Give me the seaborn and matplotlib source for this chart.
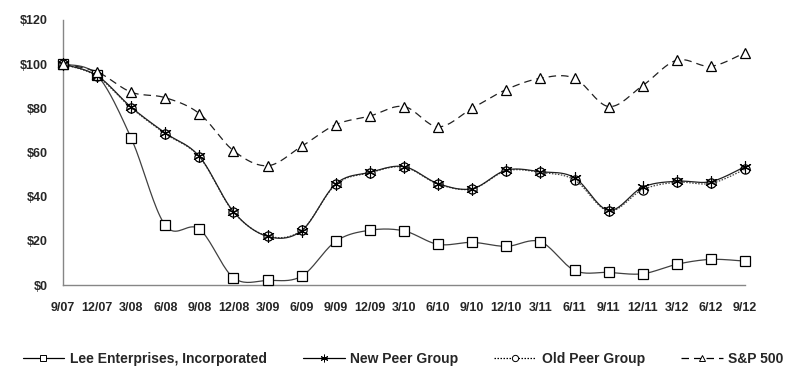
import numpy as np
import pandas as pd
import seaborn as sns
import matplotlib
matplotlib.use('Agg')
import matplotlib.pyplot as plt
from matplotlib.lines import Line2D

# Data (cumulative total return, $100 invested 9/07)
quarters = ["9/07", "12/07", "3/08", "6/08", "9/08", "12/08", "3/09", "6/09", "9/09", "12/09",
            "3/10", "6/10", "9/10", "12/10", "3/11", "6/11", "9/11", "12/11", "3/12", "6/12", "9/12"]
lee = [100, 95, 66.5, 27, 25.3, 3.3, 2.1, 4, 19.8, 24.8,
       24.5, 18.4, 19.3, 17.5, 19.6, 6.6, 5.7, 5.1, 9.4, 11.6, 10.8]
new_peer = [100, 94.8, 80.5, 68.8, 58.2, 33.2, 22, 24.6, 45.8, 51,
            53.6, 45.9, 43.6, 52, 51.3, 48.6, 33.8, 44.3, 47, 46.8, 53.6]
old_peer = [100, 94.5, 80.2, 68.5, 58, 33, 22.2, 24.8, 45.5, 50.8,
            53.4, 45.7, 43.5, 51.7, 51, 47.6, 33.5, 43.2, 46.5, 46, 52.4]
sp500 = [100, 96.5, 87.3, 84.8, 77.6, 60.8, 54, 62.8, 72.6, 76.5,
         80.8, 71.6, 80, 88.5, 93.6, 93.6, 80.8, 90.3, 101.8, 99, 105.2]


def smooth(y, n=20):
    # Excel-style smoothed line (bezier between points)
    y = np.asarray(y, float)
    x = np.arange(len(y), dtype=float)
    pts = np.column_stack([x, y])
    pad = np.vstack([pts[0], pts, pts[-1]])
    out = []
    t = np.linspace(0, 1, n, endpoint=False)[:, None]
    for i in range(len(pts) - 1):
        p0, p1, p2, p3 = pad[i], pad[i + 1], pad[i + 2], pad[i + 3]
        c1 = p1 + (p2 - p0) / 6
        c2 = p2 - (p3 - p1) / 6
        seg = ((1 - t) ** 3) * p1 + 3 * ((1 - t) ** 2) * t * c1 + 3 * (1 - t) * t ** 2 * c2 + t ** 3 * p2
        out.append(seg)
    out.append(pts[-1][None, :])
    out = np.vstack(out)
    return out[:, 0], out[:, 1]


sns.set_style("white")
plt.rcParams['font.family'] = ['Liberation Sans', 'Arial', 'DejaVu Sans']
plt.rcParams['font.weight'] = 'bold'

fig = plt.figure(figsize=(7.95, 3.76), dpi=100)
ax = fig.add_axes([0.0792, 0.242, 0.858, 0.705])

# name, values, linestyle, marker, markersize, line colour, marker face
series = [
    ("Lee Enterprises, Incorporated", lee, "-", "s", 7.2, "#404040", "white"),
    ("Old Peer Group", old_peer, (0, (1.2, 1.2)), "o", 6.6, "#404040", "none"),
    ("New Peer Group", new_peer, "-", (6, 2, 0), 9, "#202020", "black"),
    ("S&P 500", sp500, (0, (6, 4)), "^", 7.5, "#202020", "white"),
]

idx = np.arange(len(quarters))
for name, vals, ls, mk, ms, col, fc in series:
    sx, sy = smooth(vals)
    sns.lineplot(x=sx, y=sy, ax=ax, sort=False, color=col, linestyle=ls, linewidth=0.9, zorder=2)
for name, vals, ls, mk, ms, col, fc in series:
    sns.lineplot(x=idx, y=vals, ax=ax, sort=False, linestyle="", marker=mk, markersize=ms,
                 markerfacecolor=fc, markeredgecolor="black",
                 markeredgewidth=0.8 if fc == "black" else 0.9,
                 color="black", zorder=3, clip_on=False)

legend_order = ["Lee Enterprises, Incorporated", "New Peer Group", "Old Peer Group", "S&P 500"]
lookup = {s[0]: s for s in series}
handles = []
for name in legend_order:
    _, _, ls, mk, ms, col, fc = lookup[name]
    handles.append(Line2D([0], [0], color="black", linestyle=ls, linewidth=0.9, marker=mk,
                          markersize=5.5 if fc == "black" else 4.5,
                          markerfacecolor="white" if fc != "black" else "black",
                          markeredgecolor="black", markeredgewidth=0.7, label=name))

ax.set_xlim(0, len(quarters) - 1)
ax.set_ylim(0, 120)
ax.set_xticks(idx)
ax.set_xticklabels(quarters)
ax.set_yticks(range(0, 121, 20))
ax.set_yticklabels([f"${v}" for v in range(0, 121, 20)])
ax.tick_params(axis="x", direction="in", length=4, color="#868686", labelsize=9, pad=12)
ax.tick_params(axis="y", direction="out", length=4, color="#868686", labelsize=9, pad=7)
for lab in ax.get_xticklabels() + ax.get_yticklabels():
    lab.set_fontweight("bold")
for s in ["top", "right"]:
    ax.spines[s].set_visible(False)
for s in ["left", "bottom"]:
    ax.spines[s].set_color("#868686")
    ax.spines[s].set_linewidth(1)
ax.set_xlabel("")
ax.set_ylabel("")

fig.legend(handles=handles, loc="center", bbox_to_anchor=(0.507, 0.045), ncol=4, frameon=False,
           handlelength=3.0, columnspacing=2.6, handletextpad=0.4,
           prop={"weight": "bold", "size": 10})

plt.savefig("out.png", dpi=100)
